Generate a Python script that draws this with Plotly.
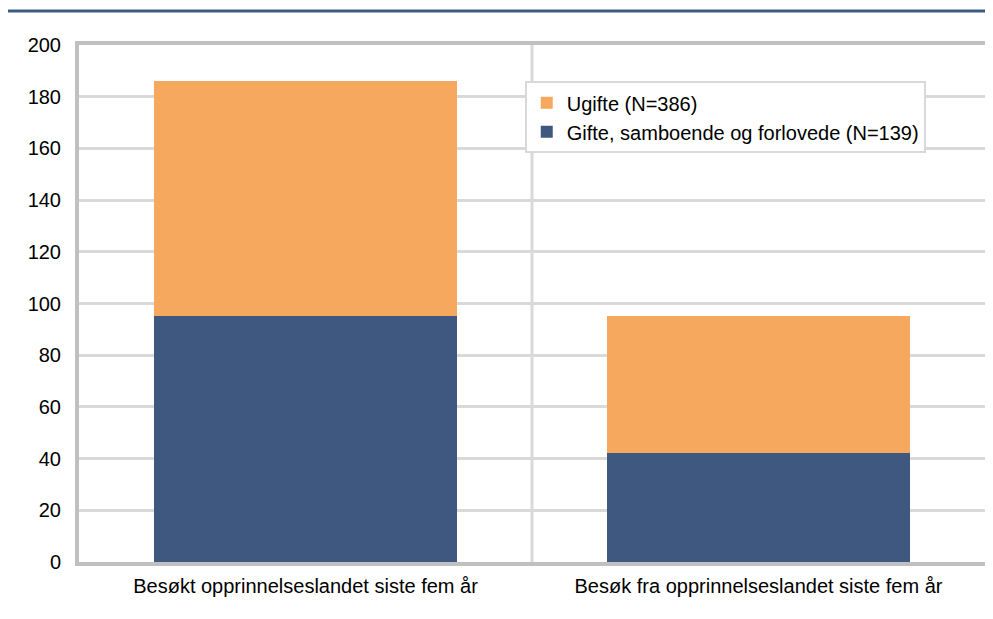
import plotly.graph_objects as go

categories = ["Besøkt opprinnelseslandet siste fem år", "Besøk fra opprinnelseslandet siste fem år"]
gifte = [95, 42]
ugifte = [91, 53]
series_names = ["Gifte, samboende og forlovede (N=139)", "Ugifte (N=386)"]
y_ticks = [0, 20, 40, 60, 80, 100, 120, 140, 160, 180, 200]

x_pos = list(range(len(categories)))

fig = go.Figure()
fig.add_trace(go.Bar(x=x_pos, y=gifte, name=series_names[0], marker_color="#3F5880",
                     marker_line_width=0, width=0.668))
fig.add_trace(go.Bar(x=x_pos, y=ugifte, name=series_names[1], marker_color="#F6A95E",
                     marker_line_width=0, width=0.668))

fig.update_layout(
    barmode="stack",
    width=985, height=611,
    margin=dict(l=71, r=4, t=37, b=57),
    paper_bgcolor="white", plot_bgcolor="white",
    font=dict(family="Liberation Sans, Arial, sans-serif", size=20, color="black"),
    legend=dict(x=0.492, y=0.93, xanchor="left", yanchor="top",
                traceorder="reversed", bordercolor="#d9d9d9", borderwidth=2,
                bgcolor="white", font=dict(size=20), itemwidth=30,
                tracegroupgap=0),
    showlegend=True,
)
fig.update_xaxes(range=[-0.5, 1.5], tickvals=x_pos, ticktext=categories,
                 showgrid=False, showline=True, mirror=True, linecolor="#c0c0c0",
                 linewidth=4, ticks="", zeroline=False, tickfont=dict(size=20),
                 ticklabelstandoff=3)
fig.update_yaxes(range=[0, 200], tickvals=y_ticks, showgrid=True, gridcolor="#d9d9d9",
                 gridwidth=3, showline=True, mirror=True, linecolor="#c0c0c0", linewidth=4,
                 ticks="", zeroline=False, tickfont=dict(size=20), ticklabelstandoff=10)
# vertical category separator
fig.add_shape(type="line", xref="x", yref="paper", x0=0.5, x1=0.5, y0=0, y1=1,
              line=dict(color="#d9d9d9", width=3), layer="below")
# top rule line
fig.add_shape(type="line", xref="paper", yref="paper", x0=-0.081, x1=1.0,
              y0=1.066, y1=1.066, line=dict(color="#3D5A85", width=3))

fig.write_html("out.html")
